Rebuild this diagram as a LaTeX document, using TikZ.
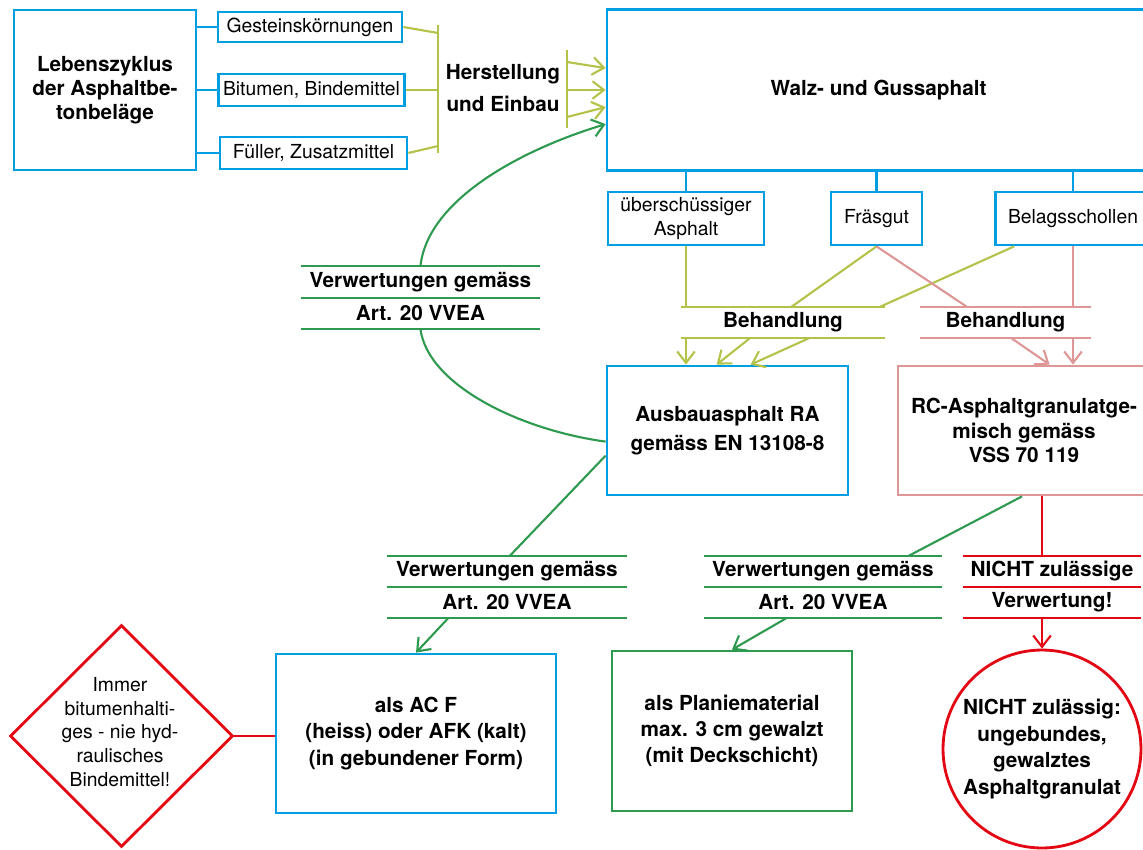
\documentclass[tikz,border=0pt]{standalone}
\usepackage{fontspec}
\setmainfont{TeX Gyre Heros}
\usepackage{tikz}
\usetikzlibrary{calc, positioning, shapes, arrows.meta}

\definecolor{azblau}{RGB}{0,159,227}
\definecolor{gelbgruen}{RGB}{181,194,74}
\definecolor{gruen}{RGB}{46,154,80}
\definecolor{rosa}{RGB}{222,150,150}
\definecolor{rot}{RGB}{227,6,19}

\tikzset{
    kasten/.style={draw=#1, line width=1.6pt, rectangle, align=center, inner sep=0pt},
    fett/.style={font=\fontsize{11.8}{#1}\selectfont\bfseries},
    fett/.default=15,
    klein/.style={font=\fontsize{11}{#1}\selectfont},
    klein/.default=13.6,
    linie/.style={draw=#1, line width=1.2pt},
    etikett/.style={inner sep=0pt, minimum height=0.62cm, fett},
}

\begin{document}
\begin{tikzpicture}[x=0.02cm, y=-0.02cm, >={Straight Barb[length=6.5pt,width=10pt]}]
    \useasboundingbox (0,0) rectangle (1143,849);
    \node[kasten=azblau, fett=13.6, minimum width=3.64cm, minimum height=3.2cm] (leben) at (105,90) {Lebenszyklus\\der Asphaltbe-\\tonbeläge};
    \node[kasten=azblau, klein, minimum width=3.68cm, minimum height=0.6cm] (gestein) at (310,27) {Gesteinskörnungen};
    \node[kasten=azblau, klein, minimum width=3.73cm, minimum height=0.64cm] (bitumen) at (311.5,90) {Bitumen, Bindemittel};
    \node[kasten=azblau, klein, minimum width=3.74cm, minimum height=0.64cm] (fueller) at (313.5,153) {Füller, Zusatzmittel};
    \node[fett=18, align=center] (herst) at (503,88) {Herstellung\\und Einbau};
    \node[kasten=azblau, fett, minimum width=10.86cm, minimum height=3.22cm] (walz) at (878.5,90) {Walz- und Gussaphalt};
    \draw[linie=azblau] (leben.east |- gestein.west) -- (gestein.west);
    \draw[linie=azblau] (leben.east |- bitumen.west) -- (bitumen.west);
    \draw[linie=azblau] (leben.east |- fueller.west) -- (fueller.west);
    \coordinate (klo) at (438,25);
    \coordinate (klu) at (438,153);
    \coordinate (kro) at (567,50);
    \coordinate (kru) at (567,128);
    \draw[linie=gelbgruen] (klo) -- (klu);
    \draw[linie=gelbgruen] (gestein.east) -- ($(klo)+(0,8)$);
    \draw[linie=gelbgruen] (bitumen.east) -- (klo |- bitumen.east);
    \draw[linie=gelbgruen] (fueller.east) -- ($(klu)+(0,-7)$);
    \draw[linie=gelbgruen] (kro) -- (kru);
    \draw[linie=gelbgruen, ->] ($(kro)+(0,12)$) -- ($(walz.north west)+(0,60)$);
    \draw[linie=gelbgruen, ->] (kro |- walz.west) -- (walz.west);
    \draw[linie=gelbgruen, ->] ($(kro)+(0,67)$) -- ($(walz.north west)+(0,99)$);

    \node[kasten=azblau, klein, minimum width=3.12cm, minimum height=1.06cm] (ueber) at (686,218.5) {überschüssiger\\Asphalt};
    \node[kasten=azblau, klein, minimum width=1.82cm, minimum height=1.06cm] (fraes) at (876.5,218.5) {Fräsgut};
    \node[kasten=azblau, klein, minimum width=3.1cm, minimum height=1.06cm] (belag) at (1073,218.5) {Belagsschollen};
    \draw[linie=azblau] (ueber.north) -- (ueber.north |- walz.south);
    \draw[linie=azblau] (fraes.north) -- (fraes.north |- walz.south);
    \draw[linie=azblau] (belag.north) -- (belag.north |- walz.south);

    \node[etikett, minimum width=4.08cm] (beh1) at (783,322.5) {Behandlung};
    \node[etikett, minimum width=3.42cm] (beh2) at (1005.5,322.5) {Behandlung};
    \draw[linie=gelbgruen] (beh1.north west) -- (beh1.north east) (beh1.south west) -- (beh1.south east);
    \draw[linie=rosa] (beh2.north west) -- (beh2.north east) (beh2.south west) -- (beh2.south east);
    \draw[linie=gelbgruen] (ueber.south) -- (ueber.south |- beh1.north);
    \draw[linie=gelbgruen] (fraes.south) -- ($(beh1.north west)+(111,0)$);
    \draw[linie=gelbgruen] ($(belag.south west)+(20,0)$) -- ($(beh1.north east)+(-5,0)$);
    \draw[linie=rosa] (fraes.south) -- ($(beh2.north west)+(47,0)$);
    \draw[linie=rosa] (belag.south) -- (belag.south |- beh2.north);

    \node[kasten=azblau, fett=16.4, minimum width=4.82cm, minimum height=2.58cm] (ausbau) at (727.5,430.5) {Ausbauasphalt RA\\gemäss EN 13108-8};
    \node[kasten=rosa, fett=13.9, minimum width=5.04cm, minimum height=2.58cm] (rc) at (1024,430.5) {RC-Asphaltgranulatge-\\misch gemäss\\VSS 70 119};
    \draw[linie=gelbgruen, ->] (ueber.south |- beh1.south) -- (ueber.south |- ausbau.north);
    \draw[linie=gelbgruen, ->] ($(beh1.south west)+(69,0)$) -- ($(ausbau.north west)+(111,0)$);
    \draw[linie=gelbgruen, ->] ($(beh1.south west)+(128,0)$) -- ($(ausbau.north west)+(145,0)$);
    \draw[linie=rosa, ->] ($(beh2.south west)+(92,0)$) -- ($(rc.north west)+(153,0)$);
    \draw[linie=rosa, ->] (belag.south |- beh2.south) -- (belag.south |- rc.north);

    \node[etikett, minimum width=4.78cm, minimum height=0.63cm] (ver1a) at (420.5,281.75) {Verwertungen gemäss};
    \node[etikett, minimum width=4.78cm, minimum height=0.63cm] (ver1b) at (420.5,313.25) {Art. 20 VVEA};
    \node[etikett, minimum width=4.8cm] (ver2a) at (507,571.5) {Verwertungen gemäss};
    \node[etikett, minimum width=4.8cm] (ver2b) at (507,602.5) {Art. 20 VVEA};
    \node[etikett, minimum width=4.76cm] (ver3a) at (823,571.5) {Verwertungen gemäss};
    \node[etikett, minimum width=4.76cm] (ver3b) at (823,602.5) {Art. 20 VVEA};
    \node[etikett, minimum width=3.56cm] (nichta) at (1052,571.5) {NICHT zulässige};
    \node[etikett, minimum width=3.56cm] (nichtb) at (1052,602.5) {Verwertung!};
    \draw[linie=gruen] (ver1a.north west) -- (ver1a.north east) (ver1a.south west) -- (ver1a.south east) (ver1b.south west) -- (ver1b.south east);
    \draw[linie=gruen] (ver2a.north west) -- (ver2a.north east) (ver2a.south west) -- (ver2a.south east) (ver2b.south west) -- (ver2b.south east);
    \draw[linie=gruen] (ver3a.north west) -- (ver3a.north east) (ver3a.south west) -- (ver3a.south east) (ver3b.south west) -- (ver3b.south east);
    \draw[linie=rot] (nichta.north west) -- (nichta.north east) (nichta.south west) -- (nichta.south east) (nichtb.south west) -- (nichtb.south east);

    \node[kasten=azblau, fett, minimum width=5.6cm, minimum height=3.18cm] (acf) at (416,733.5) {als AC F\\(heiss) oder AFK (kalt)\\(in gebundener Form)};
    \node[kasten=gruen, fett=14.7, minimum width=4.8cm, minimum height=3.2cm] (planie) at (732,731) {als Planiematerial\\max. 3 cm gewalzt\\(mit Deckschicht)};
    \node[kasten=rot, circle, fett, minimum size=3.96cm] (kreis) at (1042,749) {NICHT zulässig:\\ungebundes,\\gewalztes\\Asphaltgranulat};
    \node[kasten=rot, diamond, minimum width=4.46cm, minimum height=4.44cm] (diam) at (121.5,736) {};
    \node[klein, align=center] (diamtext) at (120,732) {Immer\\bitumenhalti-\\ges - nie hyd-\\raulisches\\Bindemittel!};

    \draw[linie=gruen, ->] (ver1a.north) .. controls (428,200) and (520,150) .. ($(walz.north west)+(0,116)$);
    \draw[linie=gruen] (ver1b.south) .. controls (428,385) and (520,430) .. ($(ausbau.north west)+(0,77)$);
    \draw[linie=gruen] ($(ausbau.north west)+(0,91)$) -- ($(ver2a.north)+(3,0)$);
    \draw[linie=gruen, ->] ($(ver2b.south)+(-59,0)$) -- (acf.north);
    \draw[linie=gruen] ($(rc.south)+(-2,0)$) -- ($(ver3a.north)+(86,0)$);
    \draw[linie=gruen, ->] ($(ver3b.south)+(-37,0)$) -- (planie.north);
    \draw[linie=rot] (kreis.north |- rc.south) -- (kreis.north |- nichta.north);
    \draw[linie=rot, ->] (kreis.north |- nichtb.south) -- (kreis.north);
    \draw[linie=rot] (diam.east) -- (diam.east -| acf.west);
\end{tikzpicture}
\end{document}
